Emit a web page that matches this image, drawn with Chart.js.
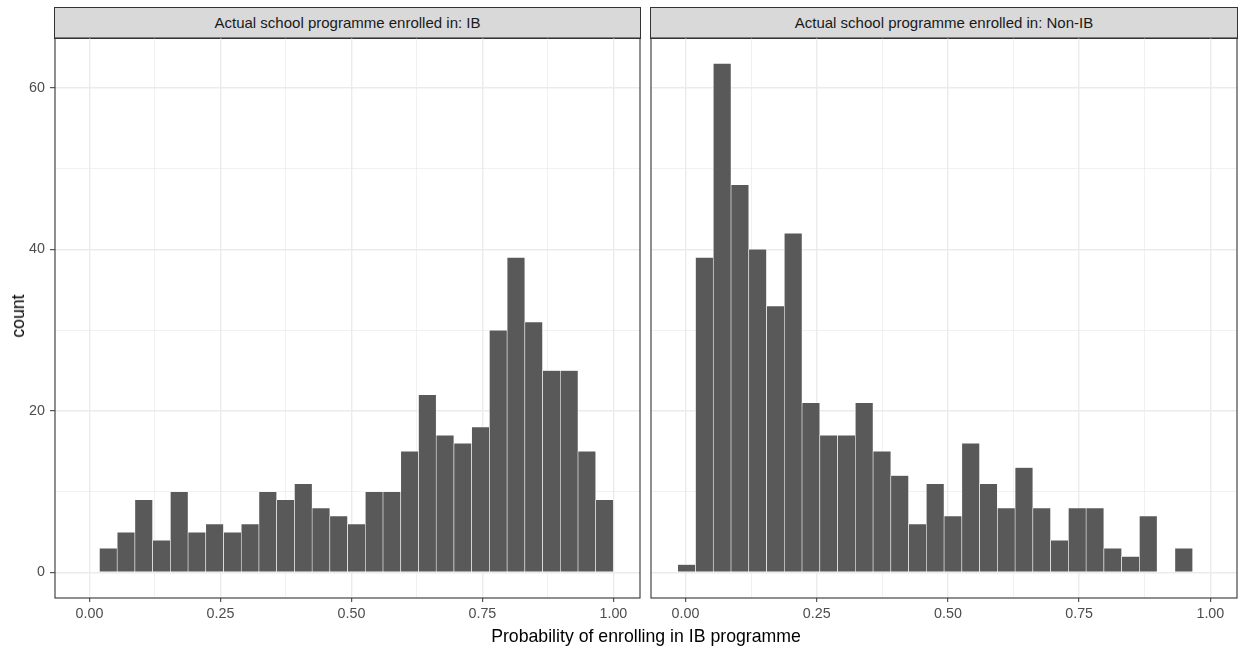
<!DOCTYPE html>
<html>
<head>
<meta charset="utf-8">
<script src="https://cdn.jsdelivr.net/npm/chart.js@4/dist/chart.umd.min.js"></script>
<style>
  body { margin: 0; background: #fff; font-family: "Liberation Sans", Arial, sans-serif; }
  #wrap { position: relative; width: 1240px; height: 651px; overflow: hidden; }
  .box { position: absolute; }
  .strip {
    position: absolute; box-sizing: border-box; top: 7px; height: 32px;
    background: #d9d9d9; border: 1px solid #333;
    font-size: 15px; color: #1a1a1a; text-align: center; line-height: 30px;
  }
  #xtitle { position: absolute; left: 0; width: 1292px; top: 626px; line-height: 20px; text-align: center; font-size: 17.7px; color: #000; }
  #ytitle { position: absolute; left: 18px; top: 316px; line-height: 20px; transform: translate(-50%, -50%) rotate(-90deg); font-size: 17.7px; color: #000; }
</style>
</head>
<body>
<div id="wrap">
  <div class="strip" style="left:54px; width:587px;">Actual school programme enrolled in: IB</div>
  <div class="strip" style="left:650px; width:588px;">Actual school programme enrolled in: Non-IB</div>
  <div class="box" style="left:0; top:30px; width:645px; height:600px;"><canvas id="chartIB"></canvas></div>
  <div class="box" style="left:646px; top:30px; width:594px; height:600px;"><canvas id="chartNonIB"></canvas></div>
  <div id="xtitle">Probability of enrolling in IB programme</div>
  <div id="ytitle">count</div>
</div>

<script>
// histogram bin midpoints (30 bins shared by both facets)
const binMids = [0.0021, 0.0359, 0.0698, 0.1036, 0.1374, 0.1713, 0.2051, 0.2389, 0.2728, 0.3066,
                 0.3404, 0.3743, 0.4081, 0.4419, 0.4757, 0.5096, 0.5434, 0.5772, 0.6111, 0.6449,
                 0.6787, 0.7126, 0.7464, 0.7802, 0.8141, 0.8479, 0.8817, 0.9156, 0.9494, 0.9832];

// counts per bin
const countsIB    = [0, 3, 5, 9, 4, 10, 5, 6, 5, 6, 10, 9, 11, 8, 7, 6, 10, 10, 15, 22,
                     17, 16, 18, 30, 39, 31, 25, 25, 15, 9];
const countsNonIB = [1, 39, 63, 48, 40, 33, 42, 21, 17, 17, 21, 15, 12, 6, 11, 7, 16, 11, 8, 13,
                     8, 4, 8, 8, 3, 2, 7, 0, 3, 0];

// axis ticks and grid lines
const xMajorTicks = [0, 0.25, 0.5, 0.75, 1];
const xGridTicks  = [0, 0.125, 0.25, 0.375, 0.5, 0.625, 0.75, 0.875, 1];
const yMajorTicks = [0, 20, 40, 60];
const yGridTicks  = [0, 10, 20, 30, 40, 50, 60];
const xRange = [-0.0658, 1.0508];
const yRange = [-3.15, 66.15];

const tickFont = { family: '"Liberation Sans", Arial, sans-serif', size: 14.3 };

// panel border like ggplot theme_bw
const panelBorder = {
  id: 'panelBorder',
  afterDraw(chart) {
    const a = chart.chartArea, c = chart.ctx;
    c.save();
    c.strokeStyle = '#333333';
    c.lineWidth = 1.1;
    c.strokeRect(a.left, a.top, a.right - a.left, a.bottom - a.top);
    c.restore();
  }
};

function makeChart(id, counts, showY) {
  const points = binMids.map((m, i) => ({ x: m, y: counts[i] }));
  return new Chart(document.getElementById(id), {
    type: 'bar',
    data: {
      datasets: [{
        data: points,
        backgroundColor: '#595959',
        borderColor: '#ffffff',
        borderWidth: 0.6,
        borderSkipped: false,
        barPercentage: 1,
        categoryPercentage: 1
      }]
    },
    options: {
      responsive: true,
      maintainAspectRatio: false,
      animation: false,
      layout: { padding: showY ? { left: 0, right: 5, top: 8, bottom: 0 } : { left: 5, right: 3, top: 8, bottom: 0 } },
      plugins: { legend: { display: false }, tooltip: { enabled: false } },
      scales: {
        x: {
          type: 'linear',
          min: xRange[0], max: xRange[1],
          offset: false,
          afterBuildTicks: s => { s.ticks = xGridTicks.map(v => ({ value: v })); },
          afterFit: s => { s.height = 32; s.paddingLeft = 0; s.paddingRight = 0; },
          border: { display: false },
          grid: {
            offset: false,
            color: '#ebebeb',
            lineWidth: c => xMajorTicks.includes(c.tick.value) ? 1.4 : 0.7,
            drawTicks: true,
            tickLength: 4,
            tickWidth: 1,
            tickColor: c => xMajorTicks.includes(c.tick.value) ? '#333333' : 'rgba(0,0,0,0)'
          },
          ticks: {
            autoSkip: false, maxRotation: 0, padding: 3,
            color: '#4d4d4d',
            font: tickFont,
            callback: v => xMajorTicks.includes(v) ? v.toFixed(2) : ''
          }
        },
        y: {
          min: yRange[0], max: yRange[1],
          afterBuildTicks: s => { s.ticks = yGridTicks.map(v => ({ value: v })); },
          afterFit: s => { s.width = showY ? 55 : 0; s.paddingTop = 0; s.paddingBottom = 0; },
          border: { display: false },
          grid: {
            color: '#ebebeb',
            lineWidth: c => yMajorTicks.includes(c.tick.value) ? 1.4 : 0.7,
            drawTicks: showY,
            tickLength: 5,
            tickWidth: 1,
            tickColor: c => yMajorTicks.includes(c.tick.value) ? '#333333' : 'rgba(0,0,0,0)'
          },
          ticks: {
            display: showY, autoSkip: false, padding: 5,
            color: '#4d4d4d',
            font: tickFont,
            callback: v => yMajorTicks.includes(v) ? String(v) : ''
          }
        }
      }
    },
    plugins: [panelBorder]
  });
}

makeChart('chartIB', countsIB, true);
makeChart('chartNonIB', countsNonIB, false);
</script>
</body>
</html>
